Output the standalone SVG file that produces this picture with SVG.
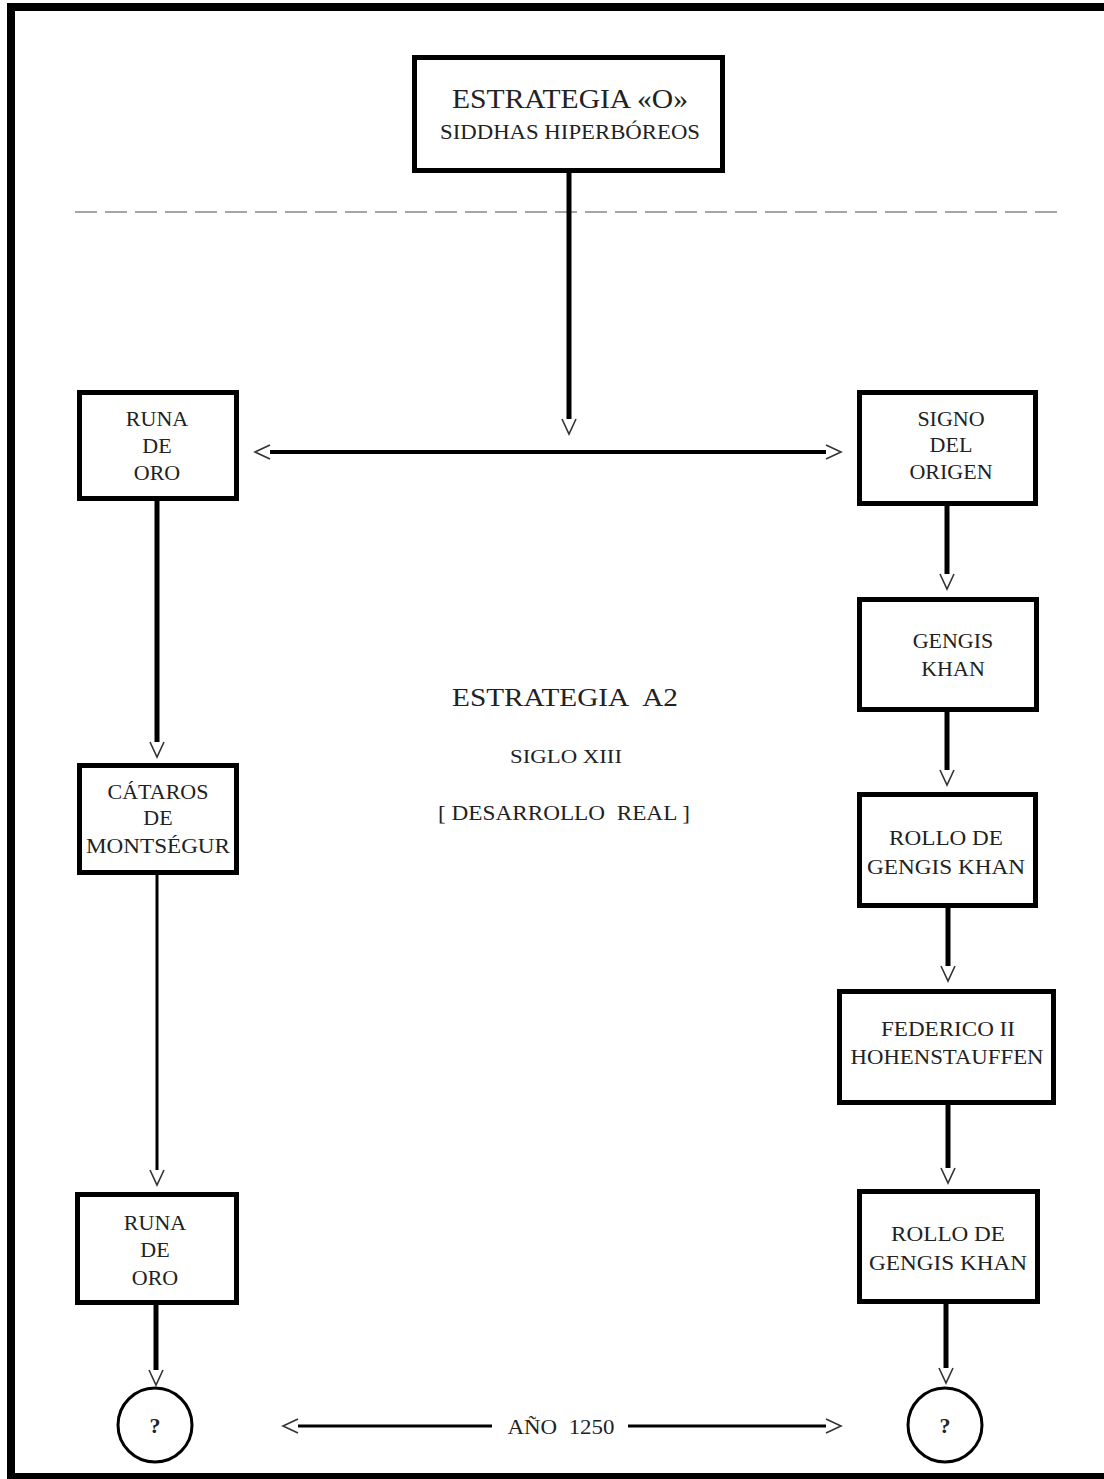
<svg xmlns="http://www.w3.org/2000/svg" width="1104" height="1479" viewBox="0 0 1104 1479">
<style>
.box{fill:#fff;stroke:#000;stroke-width:5}
.t{font-family:"Liberation Serif","Times New Roman",serif;fill:#222;text-anchor:middle}
.b{font-size:22px}
.c{stroke:#000;fill:none}
.circ{fill:#fff;stroke:#000;stroke-width:3}
</style>
<defs>
<marker id="v" markerUnits="userSpaceOnUse" markerWidth="20" markerHeight="20" viewBox="-2 -9 20 18" refX="0" refY="0" orient="auto-start-reverse">
<path d="M0,-7 L15,0 L0,7" fill="none" stroke="#333" stroke-width="1.6"/>
</marker>
</defs>
<rect x="11" y="7" width="1110" height="1470" fill="none" stroke="#000" stroke-width="8"/>
<line x1="75" y1="212" x2="1060" y2="212" stroke="#888" stroke-width="1.5" stroke-dasharray="22 8"/>
<g id="connectors">
<line class="c" x1="569" y1="173" x2="569" y2="419" stroke-width="5" marker-end="url(#v)"/>
<line class="c" x1="270" y1="452" x2="826" y2="452" stroke-width="4" marker-start="url(#v)" marker-end="url(#v)"/>
<line class="c" x1="157" y1="501" x2="157" y2="742" stroke-width="5" marker-end="url(#v)"/>
<line class="c" x1="157" y1="875" x2="157" y2="1170" stroke-width="3" marker-end="url(#v)"/>
<line class="c" x1="156" y1="1305" x2="156" y2="1370" stroke-width="5" marker-end="url(#v)"/>
<line class="c" x1="947" y1="506" x2="947" y2="574" stroke-width="5" marker-end="url(#v)"/>
<line class="c" x1="947" y1="712" x2="947" y2="770" stroke-width="5" marker-end="url(#v)"/>
<line class="c" x1="948" y1="908" x2="948" y2="966" stroke-width="5" marker-end="url(#v)"/>
<line class="c" x1="948" y1="1105" x2="948" y2="1168" stroke-width="5" marker-end="url(#v)"/>
<line class="c" x1="946" y1="1304" x2="946" y2="1368" stroke-width="5" marker-end="url(#v)"/>
<line class="c" x1="298" y1="1426" x2="492" y2="1426" stroke-width="3" marker-start="url(#v)"/>
<line class="c" x1="628" y1="1426" x2="826" y2="1426" stroke-width="3" marker-end="url(#v)"/>
</g>
<g id="top">
<rect class="box" x="414.5" y="57.5" width="308" height="113"/>
<text class="t" x="570" y="108" font-size="27" textLength="236" lengthAdjust="spacingAndGlyphs">ESTRATEGIA «O»</text>
<text class="t" x="570" y="139" font-size="21" textLength="260" lengthAdjust="spacingAndGlyphs">SIDDHAS HIPERBÓREOS</text>
</g>
<g id="runa1">
<rect class="box" x="79.5" y="392.5" width="157" height="106"/>
<text class="t b" x="157" y="426">RUNA</text>
<text class="t b" x="157" y="453">DE</text>
<text class="t b" x="157" y="480">ORO</text>
</g>
<g id="signo">
<rect class="box" x="859.5" y="392.5" width="176" height="111"/>
<text class="t b" x="951" y="426">SIGNO</text>
<text class="t b" x="951" y="452">DEL</text>
<text class="t b" x="951" y="479">ORIGEN</text>
</g>
<g id="cataros">
<rect class="box" x="79.5" y="765.5" width="157" height="107"/>
<text class="t b" x="158" y="799">CÁTAROS</text>
<text class="t b" x="158" y="825">DE</text>
<text class="t b" x="158" y="853" textLength="144" lengthAdjust="spacingAndGlyphs">MONTSÉGUR</text>
</g>
<g id="runa2">
<rect class="box" x="77.5" y="1194.5" width="159" height="108"/>
<text class="t b" x="155" y="1230">RUNA</text>
<text class="t b" x="155" y="1257">DE</text>
<text class="t b" x="155" y="1285">ORO</text>
</g>
<g id="gengis">
<rect class="box" x="859.5" y="599.5" width="177" height="110"/>
<text class="t b" x="953" y="648">GENGIS</text>
<text class="t b" x="953" y="676">KHAN</text>
</g>
<g id="rollo1">
<rect class="box" x="859.5" y="794.5" width="176" height="111"/>
<text class="t b" x="946" y="845" textLength="114" lengthAdjust="spacingAndGlyphs">ROLLO DE</text>
<text class="t b" x="946" y="874" textLength="158" lengthAdjust="spacingAndGlyphs">GENGIS KHAN</text>
</g>
<g id="federico">
<rect class="box" x="839.5" y="991.5" width="214" height="111"/>
<text class="t b" x="948" y="1036" textLength="134" lengthAdjust="spacingAndGlyphs">FEDERICO II</text>
<text class="t b" x="947" y="1064" textLength="193" lengthAdjust="spacingAndGlyphs">HOHENSTAUFFEN</text>
</g>
<g id="rollo2">
<rect class="box" x="859.5" y="1191.5" width="178" height="110"/>
<text class="t b" x="948" y="1241" textLength="114" lengthAdjust="spacingAndGlyphs">ROLLO DE</text>
<text class="t b" x="948" y="1270" textLength="158" lengthAdjust="spacingAndGlyphs">GENGIS KHAN</text>
</g>
<g id="q1">
<circle class="circ" cx="155" cy="1425" r="37"/>
<text class="t" x="155" y="1433" font-size="22" font-weight="bold">?</text>
</g>
<g id="q2">
<circle class="circ" cx="945" cy="1425" r="37"/>
<text class="t" x="945" y="1433" font-size="22" font-weight="bold">?</text>
</g>
<g id="labels">
<text class="t" x="565" y="706" font-size="26" textLength="226" lengthAdjust="spacingAndGlyphs">ESTRATEGIA&#160; A2</text>
<text class="t" x="566" y="763" font-size="19" textLength="112" lengthAdjust="spacingAndGlyphs">SIGLO XIII</text>
<text class="t" x="564" y="820" font-size="22" textLength="252" lengthAdjust="spacingAndGlyphs">[ DESARROLLO&#160; REAL ]</text>
<text class="t" x="561" y="1434" font-size="20" textLength="107" lengthAdjust="spacingAndGlyphs">AÑO&#160; 1250</text>
</g>
</svg>
